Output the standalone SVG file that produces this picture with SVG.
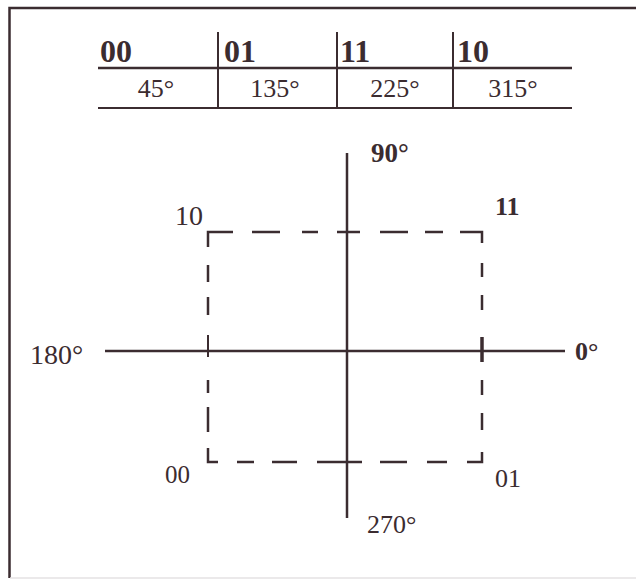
<svg xmlns="http://www.w3.org/2000/svg" width="636" height="580" viewBox="0 0 636 580">
<style>
.ln{stroke:#3b2c30;fill:none}
.d{stroke:#3b2c30;fill:none;stroke-width:2.5}
.t{font-family:"Liberation Serif",serif;fill:#3b2c30}
.h{font-size:32px;font-weight:bold}
.r{font-size:26px}
</style>
<rect x="0" y="0" width="636" height="580" fill="#fff"/>
<g id="frame">
<path class="ln" d="M9.5 578 V8 H636" stroke="#4a4045" stroke-width="2.5"/>
<line x1="10" y1="578" x2="636" y2="578" stroke="#e4e2e3" stroke-width="1.5"/>
</g>
<g id="table">
<line class="ln" x1="98" y1="68" x2="572" y2="68" stroke-width="2.5"/>
<line class="ln" x1="98" y1="108" x2="572" y2="108" stroke-width="2"/>
<line class="ln" x1="218" y1="32" x2="218" y2="108" stroke-width="2"/>
<line class="ln" x1="337" y1="32" x2="337" y2="108" stroke-width="2"/>
<line class="ln" x1="453" y1="32" x2="453" y2="108" stroke-width="2"/>
<text class="t h" x="100" y="62">00</text>
<text class="t h" x="224" y="62">01</text>
<text class="t h" x="340" y="62">11</text>
<text class="t h" x="457" y="62">10</text>
<text class="t r" x="156" y="97" text-anchor="middle">45°</text>
<text class="t r" x="275" y="97" text-anchor="middle">135°</text>
<text class="t r" x="395" y="97" text-anchor="middle">225°</text>
<text class="t r" x="513" y="97" text-anchor="middle">315°</text>
</g>
<g id="connectors">
<line class="ln" x1="347" y1="153" x2="347" y2="518" stroke-width="2.5"/>
<line class="ln" x1="105" y1="351" x2="565" y2="351" stroke-width="2.5"/>
<line class="ln" x1="208" y1="335" x2="208" y2="357" stroke-width="2"/>
<line class="ln" x1="482" y1="337" x2="482" y2="362" stroke-width="3.5"/>
</g>
<g id="square">
<path class="d" d="M208 247 V232 H233 M252 232 H280 M302 232 H318 M337 232 H360 M380 232 H408 M425 232 H443 M460 232 H482 V243"/>
<path class="d" d="M208 265 V282 M208 297 V315 M208 380 V393 M208 407 V432"/>
<path class="d" d="M482 263 V277 M482 295 V310 M482 380 V395 M482 413 V430"/>
<path class="d" d="M208 448 V462 H218 M237 462 H254 M272 462 H297 M317 462 H362 M380 462 H407 M427 462 H447 M467 462 H482 V452"/>
</g>
<g id="labels">
<text class="t" x="371" y="162" font-size="27" font-weight="bold">90°</text>
<text class="t" x="367" y="533" font-size="26">270°</text>
<text class="t" x="30" y="364" font-size="28">180°</text>
<text class="t" x="575" y="360" font-size="26" font-weight="bold">0°</text>
<text class="t" x="175" y="225" font-size="28">10</text>
<text class="t" x="495" y="215" font-size="26" font-weight="bold">11</text>
<text class="t" x="165" y="483" font-size="25">00</text>
<text class="t" x="495" y="487" font-size="26">01</text>
</g>
</svg>
